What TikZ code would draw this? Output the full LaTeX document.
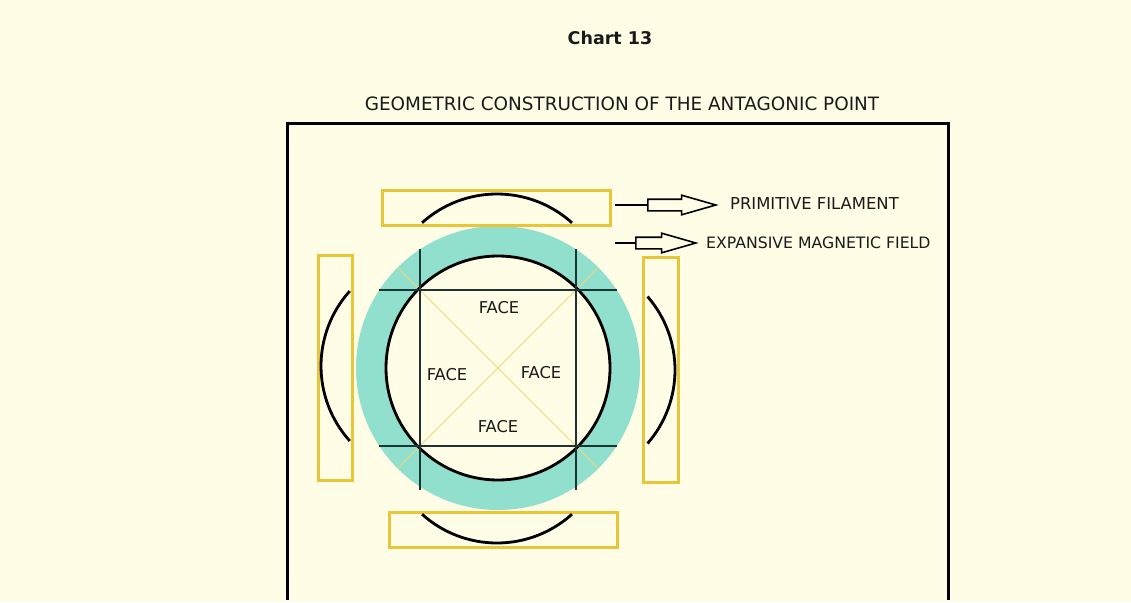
\documentclass[tikz,border=0pt]{standalone}
\usepackage{fontspec}
\setmainfont{DejaVu Sans}
\usetikzlibrary{shapes.arrows,positioning}
\definecolor{paper}{HTML}{FFFDE6}
\definecolor{ring}{HTML}{90E0CD}
\definecolor{gold}{HTML}{E9C53A}
\definecolor{diag}{HTML}{EFD87A}
\definecolor{grid}{HTML}{1E3434}
\definecolor{ink}{HTML}{1A1A1A}
\tikzset{
  goldbox/.style ={draw=gold, line width=3pt, inner sep=0pt},
  hbox/.style    ={goldbox, minimum width=228pt, minimum height=35pt},
  vbox/.style    ={goldbox, minimum width=34pt, minimum height=225pt},
  arcline/.style ={line width=2.8pt, black},
  gridline/.style={line width=1.4pt, grid},
  diagline/.style={line width=0.8pt, diag},
  lbl/.style     ={text=ink, inner sep=0pt},
  face/.style    ={lbl, font=\fontsize{16.3}{16.3}\selectfont},
  hollow/.style  ={draw, line width=1.6pt, single arrow, inner xsep=0pt, inner ysep=5pt,
                   single arrow head extend=4pt, single arrow tip angle=32, anchor=tail},
  ar/.style      ={line width=2pt},
}
\begin{document}
\begin{tikzpicture}[x=1pt,y=-1pt]
\useasboundingbox (0,0) rectangle (1131,602);
\fill[paper] (0,0) rectangle (1131,602);
% titles
\node[lbl, font=\bfseries\fontsize{17.5}{17.5}\selectfont] (chart) at (610,38) {Chart 13};
\node[lbl, font=\fontsize{18.4}{18.4}\selectfont] (title) at (622,104)
  {GEOMETRIC CONSTRUCTION OF THE ANTAGONIC POINT};
% frame
\draw[line width=3pt] (287,600) -- (287,123) -- (948,123) -- (948,600);
% field ring and core
\coordinate (ctr) at (498,368);
\fill[ring] (ctr) circle[radius=142];
\fill[paper] (ctr) circle[radius=112];
\foreach \a in {45,135} {
  \draw[diagline] (ctr) ++(\a:141) -- ++(\a+180:282);
}
\draw[arcline] (ctr) circle[radius=112];
% square of faces
\draw[gridline] (420,249) -- (420,490);
\draw[gridline] (576,249) -- (576,490);
\draw[gridline] (379,290) -- (617,290);
\draw[gridline] (379,446) -- (617,446);
\node[face] (facetop)    at (499,308) {FACE};
\node[face] (faceleft)   at (447,375) {FACE};
\node[face] (faceright)  at (541,373) {FACE};
\node[face] (facebottom) at (498,427) {FACE};
% primitive filaments
\node[hbox] (filtop)    at (496.5,207.5) {};
\node[hbox] (filbottom) at (503,529.5) {};
\node[vbox] (filleft)   at (335,367.5) {};
\node[vbox, minimum width=35pt] (filright) at (660.5,369.5) {};
\draw[arcline] (497,306) ++(228:112) arc[start angle=228, end angle=312, radius=112];
\draw[arcline] (497,431) ++(48:112) arc[start angle=48, end angle=132, radius=112];
\draw[arcline] (433,366) ++(138:112) arc[start angle=138, end angle=222, radius=112];
\draw[arcline] (563,370) ++(-41:112) arc[start angle=-41, end angle=41, radius=112];
% legend arrows
\node[hollow, minimum height=68pt] (arrfil) at (647,205) {};
\node[lbl, font=\fontsize{16.4}{16.4}\selectfont, anchor=west] (txtfil) at (730,204)
  {PRIMITIVE FILAMENT};
\draw[ar] (filtop.east |- arrfil.tail) ++(3,0) -- (arrfil.tail);
\node[hollow, minimum height=60pt] (arrfld) at (635,243) {};
\node[lbl, font=\fontsize{15.7}{15.7}\selectfont, anchor=west] (txtfld) at (706,243)
  {EXPANSIVE MAGNETIC FIELD};
\coordinate (fldtail) at (615,243);
\draw[ar] (fldtail) -- (arrfld.tail);
\end{tikzpicture}
\end{document}
